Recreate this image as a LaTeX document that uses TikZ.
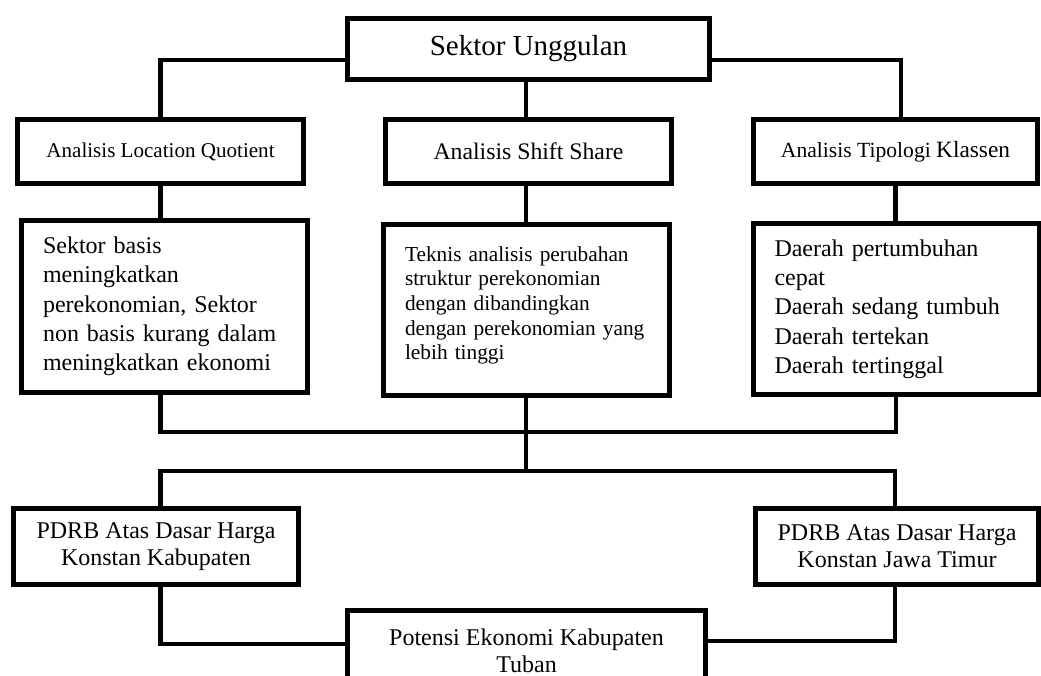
\documentclass[tikz,border=0pt]{standalone}
\usepackage{fontspec}
\setmainfont{Liberation Serif}

\tikzset{
  kotak/.style={draw=black, line width=3.7pt, fill=white, inner sep=0pt, align=center},
  isi/.style={kotak, align=left, inner xsep=16.1pt, text width=182.25pt},
  garis/.style={draw=black, line width=3.1pt}
}

\begin{document}
\begin{tikzpicture}[x=0.75pt,y=-0.75pt]
\useasboundingbox (0,0) rectangle (1041,675);
\clip (0,0) rectangle (1041,675);

\node[kotak,minimum width=271.5pt,minimum height=45.75pt,font=\fontsize{21.75}{24}\selectfont] (unggul) at (528.5,49) {Sektor Unggulan};

\node[kotak,minimum width=214.5pt,minimum height=48pt,font=\fontsize{15.8}{18}\selectfont] (lq) at (160.5,151.5) {Analisis Location Quotient};
\node[kotak,minimum width=214.5pt,minimum height=48pt,font=\fontsize{17.8}{20}\selectfont] (ss) at (528.5,151.5) {Analisis Shift Share};
\node[kotak,minimum width=213pt,minimum height=48pt,font=\fontsize{16.2}{18}\selectfont] (klassen) at (895.5,151.5) {Analisis Tipologi {\fontsize{17.5}{18}\selectfont Klassen}};

\node[isi,minimum width=214.5pt,minimum height=129pt,font=\fontsize{18}{22}\selectfont] (lqisi) at (164.5,306.5)
  {Sektor basis\\ meningkatkan\\ perekonomian, Sektor\\ non basis kurang dalam\\ meningkatkan ekonomi};
\node[isi,minimum width=214.5pt,minimum height=128.25pt,font=\fontsize{16}{18.5}\selectfont] (ssisi) at (526.5,310)
  {Teknis analisis perubahan\\ struktur perekonomian\\ dengan dibandingkan\\ dengan perekonomian yang\\ lebih tinggi\\[-8pt]\mbox{}};
\node[isi,minimum width=213.75pt,minimum height=128.25pt,font=\fontsize{18}{22}\selectfont] (klassenisi) at (896,309)
  {Daerah pertumbuhan\\ cepat\\ Daerah sedang tumbuh\\ Daerah tertekan\\ Daerah tertinggal};

\node[kotak,minimum width=213.75pt,minimum height=57pt,font=\fontsize{18}{20.5}\selectfont] (pdrbkab) at (156,546.5)
  {PDRB Atas Dasar Harga\\ Konstan Kabupaten};
\node[kotak,minimum width=212.25pt,minimum height=57pt,font=\fontsize{18}{20.5}\selectfont] (pdrbjatim) at (897,546.5)
  {PDRB Atas Dasar Harga\\ Konstan Jawa Timur};

\node[kotak,minimum width=268.5pt,minimum height=60pt,font=\fontsize{18}{20.5}\selectfont] (potensi) at (526.5,650.5)
  {Potensi Ekonomi Kabupaten\\ Tuban};

\coordinate (temu1) at (526,432);
\coordinate (temu2) at (526,471);

\draw[garis] ([yshift=-8.25pt]unggul.west) -| (lq.north);
\draw[garis] ([yshift=-8.25pt]unggul.east) -| ([xshift=4pt]klassen.north);
\draw[garis] (unggul.south -| temu1) -- (ss.north -| temu1);
\draw[garis] (lq.south) -- (lq.south |- lqisi.north);
\draw[garis] (ss.south -| temu1) -- (ssisi.north -| temu1);
\draw[garis] (klassen.south) -- (klassen.south |- klassenisi.north);
\draw[garis] (lqisi.south -| lq.south) |- (temu1) -| (klassenisi.south);
\draw[garis] (ssisi.south -| temu1) -- (temu2);
\draw[garis] (pdrbkab.north -| lq.south) |- (temu2) -| ([xshift=-1.5pt]pdrbjatim.north);
\draw[garis] (pdrbkab.south -| lq.south) |- ([yshift=4.9pt]potensi.west);
\draw[garis] ([xshift=-1.5pt]pdrbjatim.south) |- ([yshift=7pt]potensi.east);
\end{tikzpicture}
\end{document}
